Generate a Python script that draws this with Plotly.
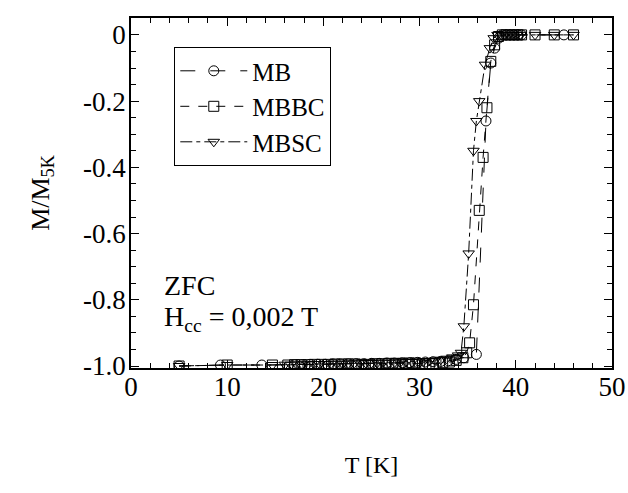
import plotly.graph_objects as go

# MB (circles)
t_mb = [5.0, 9.3, 13.6, 17.0, 17.8, 18.6, 19.4, 20.2, 21.0, 21.8, 22.6, 23.4, 24.2, 25.0,
        25.8, 26.6, 27.4, 28.2, 29.0, 29.8, 30.6, 31.4, 32.2, 33.0, 33.8, 34.6, 35.9,
        36.9, 37.4, 37.8, 38.2, 38.6, 39.0, 39.4, 39.8, 40.2, 40.6, 45.0]
m_mb = [-1.0, -0.997, -0.997, -0.996, -0.996, -0.995, -0.995, -0.995, -0.994, -0.994,
        -0.993, -0.993, -0.993, -0.992, -0.992, -0.991, -0.991, -0.990, -0.990, -0.989,
        -0.988, -0.987, -0.986, -0.984, -0.980, -0.975, -0.965,
        -0.26, -0.085, -0.04, -0.01, 0.0, 0.0, 0.0, 0.0, 0.0, 0.0, 0.0]

# MBBC (squares)
t_mbbc = [5.0, 10.0, 14.7, 16.3, 17.0, 17.7, 18.4, 19.1, 19.8, 20.5, 21.2, 21.9, 22.6,
          23.3, 24.0, 24.7, 25.4, 26.1, 26.8, 27.5, 28.2, 28.9, 29.6, 30.3, 31.0, 31.7,
          32.4, 33.1, 33.8, 34.5, 34.9, 35.2, 35.6, 36.2, 36.6, 37.0, 37.4, 37.8, 38.2,
          38.6, 39.0, 39.4, 39.8, 40.2, 40.6, 42.0, 44.0, 46.0]
m_mbbc = [-1.0, -0.997, -0.997, -0.997, -0.996, -0.996, -0.996, -0.995, -0.995, -0.995,
          -0.994, -0.994, -0.994, -0.994, -0.995, -0.995, -0.993, -0.993, -0.992, -0.992,
          -0.992, -0.991, -0.991, -0.993, -0.993, -0.992, -0.990, -0.988, -0.983, -0.975,
          -0.96, -0.93, -0.815, -0.53, -0.37, -0.22, -0.08, -0.03, -0.005,
          0.0, 0.0, 0.0, 0.0, 0.0, 0.0, 0.0, 0.0, 0.0]

# MBSC (down triangles)
t_mbsc = [5.0, 10.0, 14.7, 16.0, 16.6, 17.2, 17.8, 18.4, 19.0, 19.6, 20.2, 20.8, 21.4,
          22.0, 22.6, 23.2, 23.8, 24.4, 25.0, 25.6, 26.2, 26.8, 27.4, 28.0, 28.6, 29.2,
          29.8, 30.4, 31.0, 31.6, 32.2, 32.8, 33.4, 34.0, 34.3, 34.6, 35.1, 35.6, 35.9,
          36.2, 36.8, 37.3, 37.7, 38.1, 38.5, 38.9, 39.3, 39.7, 40.1, 40.5, 42.0, 44.0,
          46.0]
m_mbsc = [-1.0, -0.997, -0.997, -0.996, -0.996, -0.995, -0.995, -0.995, -0.994, -0.994,
          -0.994, -0.993, -0.993, -0.993, -0.992, -0.992, -0.992, -0.991, -0.991, -0.990,
          -0.990, -0.990, -0.989, -0.989, -0.988, -0.988, -0.987, -0.986, -0.985, -0.983,
          -0.981, -0.978, -0.974, -0.968, -0.96, -0.88, -0.66, -0.35, -0.26, -0.2, -0.09,
          -0.04, -0.01, 0.0, 0.0, 0.0, 0.0, 0.0, 0.0, 0.0, 0.0, 0.0, 0.0]

x_ticks = [0, 10, 20, 30, 40, 50]
y_ticks = [0, -0.2, -0.4, -0.6, -0.8, -1.0]
y_tick_text = ["0", "-0.2", "-0.4", "-0.6", "-0.8", "-1.0"]

FONT = "Liberation Serif, Times New Roman, serif"

fig = go.Figure()
series = [
    ("MB", t_mb, m_mb, "circle-open", "longdash"),
    ("MBBC", t_mbbc, m_mbbc, "square-open", "dash"),
    ("MBSC", t_mbsc, m_mbsc, "triangle-down-open", "12px,4px,4px,4px"),
]
for name, x, y, sym, dash in series:
    fig.add_trace(go.Scatter(
        x=x, y=y, name=name, mode="lines+markers",
        line=dict(color="black", width=1, dash=dash),
        marker=dict(symbol=sym, size=10, color="black", line=dict(width=1, color="black")),
    ))

axis_common = dict(
    showline=True, linecolor="black", linewidth=1.5, mirror="ticks",
    ticks="inside", tickcolor="black", ticklen=8, tickwidth=1,
    showgrid=False, zeroline=False, automargin=False,
    tickfont=dict(family=FONT, size=27, color="black"),
)
fig.update_xaxes(
    range=[0, 50], tickvals=x_ticks, ticklabelstandoff=-6,
    minor=dict(dtick=2, ticks="inside", ticklen=5, tickcolor="black"),
    title=dict(text="T [K]", font=dict(family=FONT, size=24, color="black"), standoff=55),
    **axis_common,
)
fig.update_yaxes(
    range=[-1.006, 0.051], tickvals=y_ticks, ticktext=y_tick_text, ticklabelstandoff=-2,
    minor=dict(dtick=0.05, ticks="inside", ticklen=5, tickcolor="black"),
    title=dict(text="M/M<sub>5K</sub>", font=dict(family=FONT, size=26, color="black"), standoff=26),
    **axis_common,
)

fig.add_annotation(x=0.065, y=0.236, xref="paper", yref="paper", text="ZFC",
                   showarrow=False, xanchor="left", yanchor="middle",
                   font=dict(family=FONT, size=28, color="black"))
fig.add_annotation(x=0.065, y=0.142, xref="paper", yref="paper",
                   text="H<sub>cc</sub> = 0,002 T",
                   showarrow=False, xanchor="left", yanchor="middle",
                   font=dict(family=FONT, size=28, color="black"))

fig.update_layout(
    width=628, height=493,
    margin=dict(l=131, r=16, t=18, b=125, autoexpand=False),
    plot_bgcolor="white", paper_bgcolor="white",
    showlegend=True,
    legend=dict(x=0.09, y=0.917, xanchor="left", yanchor="top",
                bordercolor="black", borderwidth=1, bgcolor="white",
                font=dict(family=FONT, size=25, color="black"),
                itemwidth=67, tracegroupgap=0),
)

fig.write_html(
    "out.html",
    config={"displayModeBar": False},
    post_script="document.body.style.margin='0';document.body.style.overflow='hidden';",
)
